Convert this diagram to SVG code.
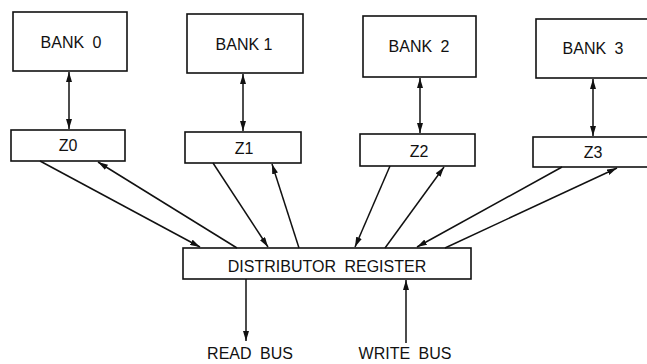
<svg xmlns="http://www.w3.org/2000/svg" width="647" height="364" viewBox="0 0 647 364">
<style>
.box{fill:#fff;stroke:#111;stroke-width:1.6}
.t{font-family:"Liberation Sans",Arial,sans-serif;font-size:16px;fill:#111;text-anchor:middle}
.w{word-spacing:4px}
.c{stroke:#111;stroke-width:1.5;fill:none}
</style>
<defs>
<marker id="ah" viewBox="0 0 10 6" refX="10" refY="3" markerWidth="10" markerHeight="6" markerUnits="userSpaceOnUse" orient="auto-start-reverse">
<path d="M0,0 L10,3 L0,6 Z" fill="#111"/>
</marker>
</defs>
<rect width="647" height="364" fill="#fff"/>
<g id="bank0"><rect class="box" x="13" y="12" width="114" height="59"/><text class="t w" x="71" y="48">BANK 0</text></g>
<g id="bank1"><rect class="box" x="187" y="14" width="116" height="59"/><text class="t" x="244" y="50">BANK 1</text></g>
<g id="bank2"><rect class="box" x="363" y="16" width="113" height="61"/><text class="t w" x="419" y="52">BANK 2</text></g>
<g id="bank3"><rect class="box" x="536" y="19" width="115" height="59"/><text class="t w" x="593" y="54">BANK 3</text></g>
<g id="z0"><rect class="box" x="11" y="130" width="114" height="31"/><text class="t" x="68" y="151">Z0</text></g>
<g id="z1"><rect class="box" x="185" y="132" width="116" height="31"/><text class="t" x="244" y="154">Z1</text></g>
<g id="z2"><rect class="box" x="360" y="134" width="115" height="32"/><text class="t" x="419" y="157">Z2</text></g>
<g id="z3"><rect class="box" x="533" y="137" width="118" height="30"/><text class="t" x="593" y="158">Z3</text></g>
<g id="dr"><rect class="box" x="183" y="248" width="288" height="31"/><text class="t w" x="327" y="272">DISTRIBUTOR REGISTER</text></g>
<g id="readbus"><text class="t w" x="250" y="359">READ BUS</text></g>
<g id="writebus"><text class="t w" x="405" y="359">WRITE BUS</text></g>
<g id="connectors">
<line class="c" x1="69" y1="72" x2="69" y2="129" marker-start="url(#ah)" marker-end="url(#ah)"/>
<line class="c" x1="243" y1="74" x2="243" y2="131" marker-start="url(#ah)" marker-end="url(#ah)"/>
<line class="c" x1="420" y1="78" x2="420" y2="133" marker-start="url(#ah)" marker-end="url(#ah)"/>
<line class="c" x1="593" y1="79" x2="593" y2="136" marker-start="url(#ah)" marker-end="url(#ah)"/>
<line class="c" x1="40" y1="161" x2="200" y2="247" marker-end="url(#ah)"/>
<line class="c" x1="237" y1="248" x2="98" y2="162" marker-end="url(#ah)"/>
<line class="c" x1="213" y1="163" x2="268" y2="247" marker-end="url(#ah)"/>
<line class="c" x1="299" y1="248" x2="272" y2="164" marker-end="url(#ah)"/>
<line class="c" x1="390" y1="166" x2="355" y2="247" marker-end="url(#ah)"/>
<line class="c" x1="385" y1="248" x2="444" y2="167" marker-end="url(#ah)"/>
<line class="c" x1="562" y1="167" x2="417" y2="247" marker-end="url(#ah)"/>
<line class="c" x1="445" y1="248" x2="617" y2="168" marker-end="url(#ah)"/>
<line class="c" x1="246" y1="279" x2="246" y2="341" marker-end="url(#ah)"/>
<line class="c" x1="406" y1="343" x2="406" y2="280" marker-end="url(#ah)"/>
</g>
</svg>
